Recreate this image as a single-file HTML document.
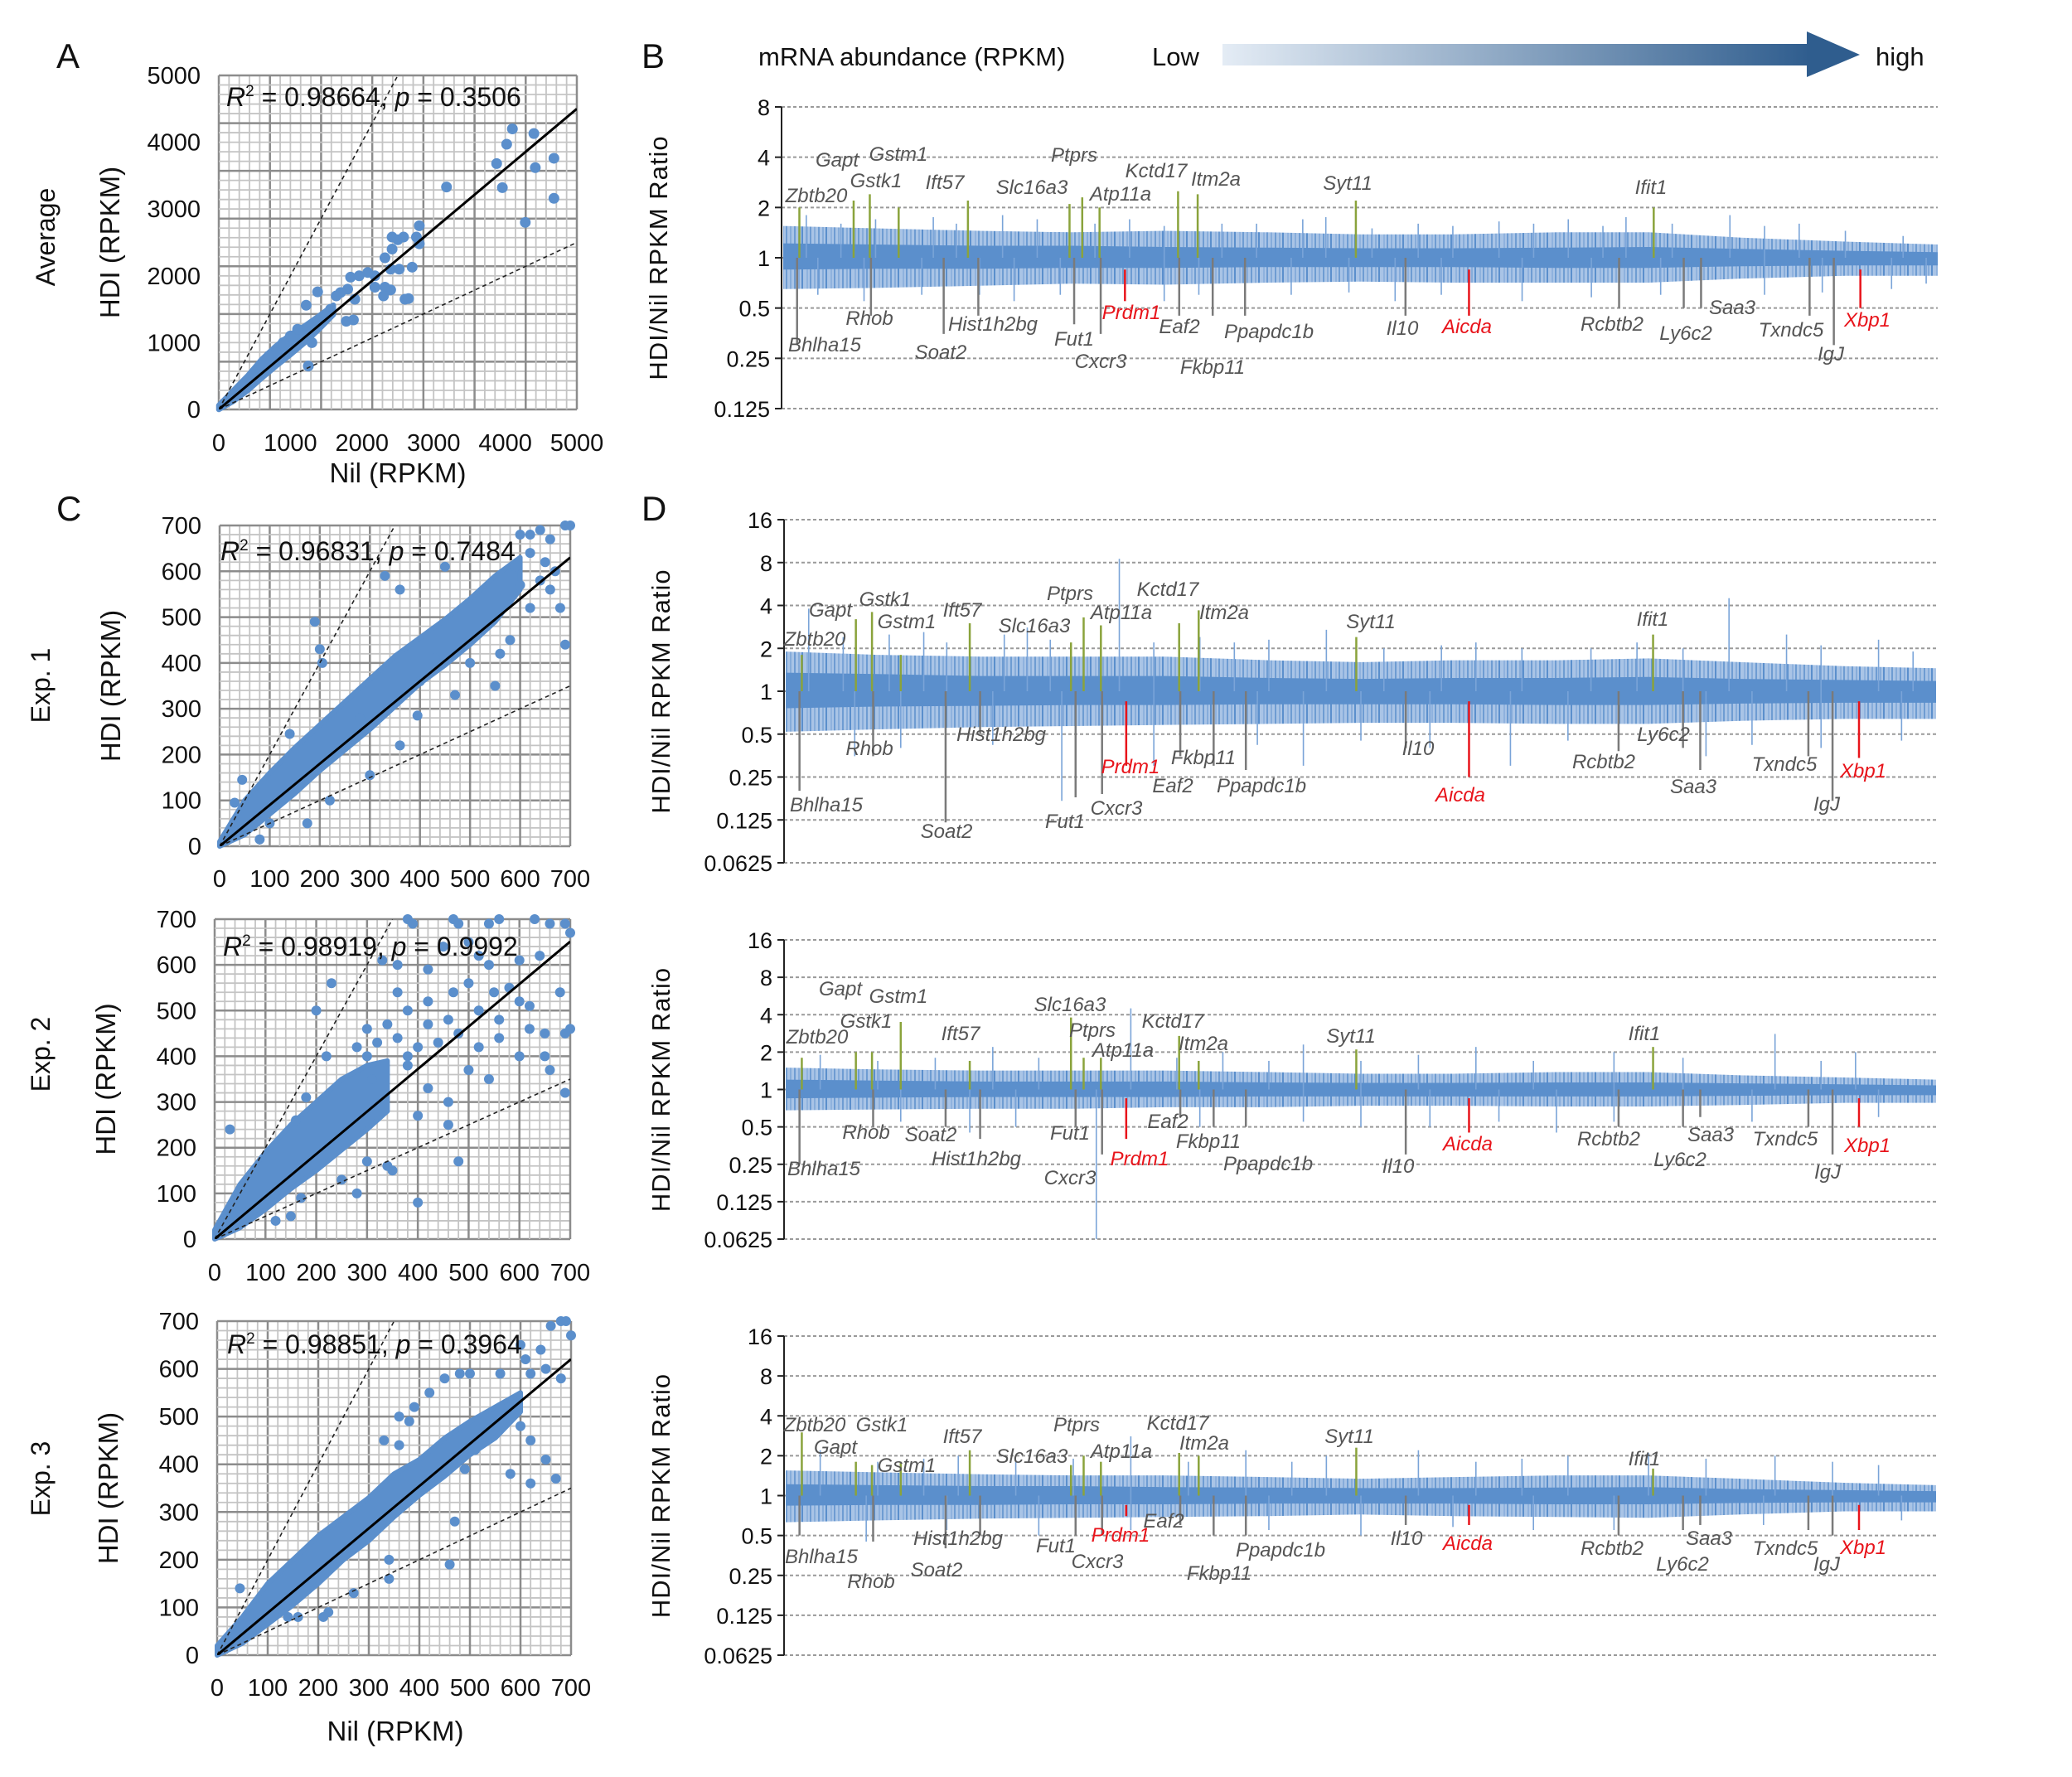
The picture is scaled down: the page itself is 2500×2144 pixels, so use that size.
<!DOCTYPE html>
<html><head><meta charset="utf-8"><style>
html,body{margin:0;padding:0;background:#fff}
svg{display:block;font-family:"Liberation Sans",Arial,sans-serif}
</style></head><body>
<svg id="fig" width="2500" height="2144" viewBox="0 0 2500 2144" xmlns="http://www.w3.org/2000/svg">
<defs>
<linearGradient id="abGrad" x1="0" x2="1" y1="0" y2="0"><stop offset="0" stop-color="#e4ecf5"/><stop offset="1" stop-color="#2f5d8e"/></linearGradient>
<pattern id="hatch" patternUnits="userSpaceOnUse" width="29" height="600">
<rect width="29" height="600" fill="#a9c4e6"/>
<line x1="2" x2="2" y1="0" y2="600" stroke="#5b8fcc" stroke-width="1.5"/>
<line x1="7" x2="7" y1="0" y2="600" stroke="#6f9cd3" stroke-width="1.2"/>
<line x1="11" x2="11" y1="0" y2="600" stroke="#5b8fcc" stroke-width="2"/>
<line x1="17" x2="17" y1="0" y2="600" stroke="#7ea7d8" stroke-width="1.2"/>
<line x1="21" x2="21" y1="0" y2="600" stroke="#5b8fcc" stroke-width="1.5"/>
<line x1="26" x2="26" y1="0" y2="600" stroke="#6f9cd3" stroke-width="1.2"/>
</pattern>
</defs>
<g font-size="42" fill="#111">
<text x="68" y="82">A</text>
<text x="774" y="82">B</text>
<text x="68" y="628">C</text>
<text x="774" y="628">D</text>
</g>
<g>
<text x="915" y="79" font-size="31" fill="#111">mRNA abundance (RPKM)</text>
<text x="1390" y="79" font-size="31" fill="#111">Low</text>
<rect x="1475" y="53" width="710" height="26" fill="url(#abGrad)"/>
<polygon points="2180,38 2244,66 2180,93" fill="#2f5d8e"/>
<text x="2263" y="79" font-size="31" fill="#111">high</text>
</g>
<g font-size="32" fill="#111" text-anchor="middle">
<text transform="translate(66,286) rotate(-90)">Average</text>
<text transform="translate(60,827) rotate(-90)">Exp. 1</text>
<text transform="translate(60,1272) rotate(-90)">Exp. 2</text>
<text transform="translate(60,1784) rotate(-90)">Exp. 3</text>
</g>
</svg>
<script>
// ---------------- DATA ----------------
const aBandX = [0,200,400,600,800,1000,1200,1400,1600];
const aBandHi = [60,280,500,750,950,1120,1250,1400,1560];
const aBandLo = [0,120,280,470,650,820,1000,1200,1420];
const aPtsX = [4100,4400,4020,4680,3880,4420,3180,3960,4680,4280,2800,2420,2500,2580,2760,2800,2320,2420,2700,2400,2520,2180,2080,1960,1840,2180,2320,2400,2300,2600,2650,1900,1780,1880,1380,1220,1640,1560,1800,1700,1500,1400,1300,1250,1100,1000,900,800,700,600];
const aPtsY = [4200,4130,3970,3760,3680,3620,3330,3320,3160,2800,2750,2580,2540,2580,2580,2480,2270,2400,2130,2100,2100,2000,2050,2000,1980,1830,1830,1790,1700,1650,1660,1650,1320,1340,1760,1560,1700,1500,1800,1750,1400,1300,1000,650,1200,1100,1000,850,800,650];
const c1BandX = [0,50,100,150,200,250,300,350,400,450,500,550,600];
const c1BandHi = [10,100,160,215,265,315,365,415,455,495,540,590,630];
const c1BandLo = [0,25,70,115,165,210,255,305,355,395,440,490,560];
const c1PtsX = [700,690,640,620,660,600,450,330,360,190,200,205,140,45,30,300,395,550,620,680,690,580,560,470,400,360,280,220,175,100,80,640,660,500,430,620,650,670,600,590];
const c1PtsY = [700,700,690,680,670,680,610,590,560,490,430,400,245,145,95,155,285,350,520,520,440,450,420,330,360,220,280,100,50,50,15,580,560,400,410,640,620,600,570,610];
const c2BandX = [0,50,100,150,200,250,300,340];
const c2BandHi = [20,120,190,250,300,350,380,390];
const c2BandLo = [0,25,65,110,150,195,240,280];
const c2PtsX = [380,390,470,480,560,540,630,660,690,700,450,500,330,360,420,520,540,600,640,230,360,420,470,500,550,580,600,620,680,700,690,650,620,560,520,480,440,400,380,420,460,520,560,600,650,660,690,540,500,460,420,380,300,280,220,180,160,200,460,480,400,350,340,300,170,120,150,30,280,250,400,320,340,360,380,300,310];
const c2PtsY = [700,690,700,690,700,690,700,690,690,670,640,650,610,600,590,620,600,610,620,560,540,520,540,560,540,550,520,510,540,460,450,450,460,440,420,450,430,420,500,470,480,500,480,400,400,370,320,350,370,300,330,380,460,420,400,310,260,500,250,170,80,150,160,170,90,40,50,240,100,130,270,430,470,440,400,400,350];
const c3BandX = [0,50,100,150,200,250,300,350,400,450,500,550,600];
const c3BandHi = [20,80,150,200,250,290,330,380,410,455,490,520,550];
const c3BandLo = [0,25,65,105,150,200,240,290,335,375,420,455,510];
const c3PtsX = [680,690,660,700,600,640,610,560,500,480,450,420,390,380,360,330,360,620,670,650,620,560,540,600,680,460,470,340,340,270,220,210,160,140,45,490,580,510,650,620];
const c3PtsY = [700,700,690,670,650,640,620,590,590,590,580,550,520,490,440,450,500,360,370,410,450,520,490,480,580,190,280,200,160,130,90,80,80,80,140,390,380,430,600,590];

const geneNames = ["Zbtb20","Bhlha15","Gapt","Gstk1","Rhob","Gstm1","Ift57","Soat2","Hist1h2bg","Slc16a3","Fut1","Ptprs","Atp11a","Cxcr3","Prdm1","Kctd17","Eaf2","Itm2a","Fkbp11","Ppapdc1b","Syt11","Il10","Aicda","Rcbtb2","Ifit1","Ly6c2","Saa3","Txndc5","IgJ","Xbp1"];
const geneKind = ["up","down","up","up","down","up","up","down","down","up","down","up","up","down","red","up","down","up","down","down","up","down","red","down","up","down","down","down","down","red"];
const geneRank = [0.014,0.012,0.061,0.075,0.076,0.10,0.16,0.139,0.169,0.248,0.252,0.259,0.274,0.275,0.296,0.342,0.343,0.359,0.372,0.40,0.496,0.539,0.594,0.724,0.754,0.78,0.795,0.889,0.91,0.933];
const bGeneVal = [2.0,0.3,2.2,2.4,0.45,2.0,2.2,0.35,0.45,2.1,0.4,2.3,2.0,0.35,0.55,2.5,0.45,2.4,0.45,0.45,2.2,0.45,0.45,0.5,2.0,0.5,0.5,0.45,0.3,0.5];
const d1GeneVal = [1.8,0.2,3.2,3.6,0.35,1.8,3.0,0.12,0.5,2.2,0.18,3.3,2.9,0.19,0.3,3.0,0.35,3.7,0.3,0.28,2.4,0.4,0.25,0.38,2.5,0.4,0.28,0.35,0.17,0.34];
const d2GeneVal = [1.8,0.25,2.0,2.0,0.5,3.5,1.7,0.5,0.4,3.8,0.5,1.8,1.8,0.3,0.4,2.7,0.6,1.7,0.5,0.5,2.1,0.3,0.45,0.5,2.2,0.5,0.6,0.5,0.3,0.5];
const d3GeneVal = [3.0,0.5,1.8,1.7,0.45,1.8,2.2,0.4,0.5,1.7,0.5,2.0,1.8,0.5,0.7,2.1,0.6,2.0,0.5,0.5,2.3,0.6,0.6,0.5,1.6,0.55,0.6,0.55,0.5,0.55];
const envRank = [0,0.08,0.17,0.25,0.33,0.42,0.5,0.58,0.67,0.75,0.83,0.92,1];
const bCoreHi = [1.22,1.2,1.18,1.18,1.16,1.15,1.14,1.14,1.15,1.16,1.13,1.1,1.08];
const bCoreLo = [0.85,0.86,0.86,0.87,0.87,0.88,0.88,0.88,0.87,0.87,0.89,0.9,0.9];
const bOutHi = [1.55,1.5,1.45,1.42,1.45,1.42,1.38,1.38,1.42,1.42,1.32,1.25,1.2];
const bOutLo = [0.65,0.66,0.68,0.7,0.69,0.71,0.72,0.71,0.71,0.71,0.75,0.78,0.78];
const d1CoreHi = [1.35,1.32,1.28,1.28,1.28,1.24,1.22,1.24,1.24,1.26,1.22,1.2,1.18];
const d1CoreLo = [0.76,0.78,0.79,0.8,0.8,0.81,0.81,0.81,0.8,0.8,0.82,0.83,0.83];
const d1OutHi = [1.9,1.8,1.75,1.75,1.75,1.65,1.6,1.65,1.65,1.7,1.6,1.5,1.45];
const d1OutLo = [0.52,0.54,0.56,0.57,0.58,0.59,0.6,0.6,0.59,0.59,0.62,0.64,0.64];
const d2CoreHi = [1.2,1.18,1.16,1.16,1.16,1.14,1.13,1.13,1.14,1.14,1.12,1.1,1.08];
const d2CoreLo = [0.85,0.86,0.87,0.87,0.87,0.88,0.88,0.88,0.88,0.88,0.89,0.9,0.9];
const d2OutHi = [1.5,1.45,1.42,1.42,1.42,1.38,1.34,1.34,1.38,1.38,1.3,1.25,1.2];
const d2OutLo = [0.68,0.69,0.7,0.7,0.72,0.72,0.74,0.74,0.73,0.73,0.75,0.78,0.78];
const d3CoreHi = [1.22,1.2,1.18,1.18,1.16,1.15,1.14,1.14,1.15,1.16,1.12,1.1,1.08];
const d3CoreLo = [0.84,0.85,0.85,0.86,0.86,0.87,0.87,0.87,0.86,0.86,0.88,0.89,0.89];
const d3OutHi = [1.55,1.5,1.45,1.42,1.42,1.38,1.34,1.38,1.42,1.42,1.34,1.25,1.2];
const d3OutLo = [0.63,0.65,0.67,0.68,0.69,0.7,0.72,0.7,0.69,0.68,0.72,0.76,0.76];
const bSpikeRank = [0.02,0.05,0.08,0.1,0.13,0.15,0.19,0.22,0.27,0.3,0.33,0.38,0.41,0.45,0.47,0.51,0.55,0.58,0.62,0.65,0.68,0.71,0.73,0.77,0.82,0.85,0.88,0.92,0.97,0.03,0.07,0.12,0.17,0.2,0.24,0.33,0.36,0.44,0.49,0.53,0.57,0.64,0.7,0.76,0.85,0.9,0.96,0.99];
const bSpikeVal = [1.8,1.6,1.7,1.7,1.75,1.6,1.8,1.7,1.6,1.7,1.55,1.6,1.6,1.7,1.75,1.5,1.6,1.55,1.65,1.6,1.7,1.55,1.75,1.6,1.8,1.55,1.6,1.45,1.35,0.6,0.55,0.6,0.6,0.55,0.6,0.55,0.6,0.6,0.62,0.55,0.6,0.55,0.58,0.6,0.6,0.62,0.65,0.7];
const d1SpikeRank = [0.02,0.05,0.09,0.12,0.14,0.19,0.21,0.23,0.29,0.32,0.36,0.39,0.42,0.47,0.52,0.57,0.6,0.64,0.7,0.74,0.78,0.82,0.87,0.9,0.95,0.98,0.24,0.06,0.1,0.18,0.32,0.41,0.45,0.5,0.56,0.63,0.68,0.8,0.84,0.9,0.97];
const d1SpikeVal = [3.8,2.4,2.5,2.6,2.2,2.5,2.8,2.3,8.5,2.2,2.4,2.2,2.3,2.7,2.0,2.1,2.2,2.0,2.0,2.2,2.0,4.5,2.5,2.1,2.3,1.9,0.17,0.35,0.4,0.42,0.3,0.42,0.3,0.45,0.4,0.3,0.45,0.35,0.42,0.4,0.45];
const d2SpikeRank = [0.03,0.08,0.13,0.18,0.22,0.3,0.34,0.38,0.42,0.45,0.5,0.55,0.6,0.65,0.72,0.78,0.86,0.9,0.93,0.27,0.5,0.56,0.67,0.16,0.1,0.2,0.36,0.45,0.62,0.72,0.84,0.95];
const d2SpikeVal = [1.9,1.7,1.8,2.2,1.8,4.5,1.8,2.0,1.7,2.3,1.7,1.9,2.2,1.7,2.0,1.8,2.8,1.7,2.0,0.0625,0.5,0.5,0.45,0.45,0.55,0.5,0.5,0.55,0.55,0.55,0.55,0.6];
const d3SpikeRank = [0.03,0.08,0.12,0.15,0.2,0.25,0.3,0.35,0.4,0.44,0.47,0.55,0.6,0.64,0.68,0.75,0.8,0.86,0.91,0.95,0.07,0.22,0.5,0.65,0.14,0.3,0.42,0.58,0.72,0.85,0.97];
const d3SpikeVal = [2.2,1.8,1.9,2.0,1.8,1.9,2.8,1.8,2.2,1.8,2.0,2.2,1.8,1.9,2.0,2.1,1.9,2.0,1.8,1.7,0.45,0.5,0.5,0.55,0.55,0.55,0.55,0.58,0.55,0.6,0.65];
const ratioTicksB = ["8","4","2","1","0.5","0.25","0.125"];
const ratioTicksD = ["16","8","4","2","1","0.5","0.25","0.125","0.0625"];
const aTicks = ["0","1000","2000","3000","4000","5000"];
const cTicks = ["0","100","200","300","400","500","600","700"];

// ---------------- DRAW ----------------
const NS = "http://www.w3.org/2000/svg";
const svg = document.getElementById("fig");
function mk(tag, attrs, parent) {
  const e = document.createElementNS(NS, tag);
  for (const k in attrs) e.setAttribute(k, attrs[k]);
  (parent || svg).appendChild(e);
  return e;
}
const DOT = "#5b8fcc";

function scatter(p) {
  const g = mk("g", {});
  
  
  const sx = v => p.x0 + (v / p.max) * (p.x1 - p.x0);
  const sy = v => p.yb - (v / p.max) * (p.yb - p.yt);
  const nMinor = 35;
  for (let i = 0; i <= nMinor; i++) {
    const v = p.max * i / nMinor;
    const major = i % 5 === 0;
    const vl = mk("line", {x1: sx(v), x2: sx(v), y1: p.yt, y2: p.yb, stroke: major ? "#8c8c8c" : "#c4c4c4", "stroke-width": major ? 2.5 : 1.8}, g);
    
    
    const hl = mk("line", {x1: p.x0, x2: p.x1, y1: sy(v), y2: sy(v), stroke: major ? "#8c8c8c" : "#c4c4c4", "stroke-width": major ? 2.5 : 1.8}, g);
    
    
  }
  const cid = "clip" + p.name;
  const cp = mk("clipPath", {id: cid}, g);
  mk("rect", {x: p.x0 - 10, y: p.yt - 10, width: p.x1 - p.x0 + 20, height: p.yb - p.yt + 20}, cp);
  const cl = mk("clipPath", {id: cid + "l"}, g);
  mk("rect", {x: p.x0, y: p.yt, width: p.x1 - p.x0, height: p.yb - p.yt}, cl);
  const dg = mk("g", {"clip-path": "url(#" + cid + ")"}, g);
  let pts = [];
  for (let i = 0; i < p.bx.length; i++) pts.push(sx(p.bx[i]) + "," + sy(p.bh[i]));
  for (let i = p.bx.length - 1; i >= 0; i--) pts.push(sx(p.bx[i]) + "," + sy(p.bl[i]));
  const band = mk("polygon", {points: pts.join(" "), fill: DOT, stroke: DOT, "stroke-width": p.r, "stroke-linejoin": "round"}, dg);
  
  
  for (let i = 0; i < p.px.length; i++) {
    const c = mk("circle", {cx: sx(p.px[i]), cy: sy(p.py[i]), r: p.r, fill: DOT}, dg);
    
    
  }
  const lg = mk("g", {"clip-path": "url(#" + cid + "l)"}, g);
  const d1 = mk("line", {x1: sx(0), y1: sy(0), x2: sx(p.max / 2), y2: sy(p.max), stroke: "#222", "stroke-width": 1.6, "stroke-dasharray": "5,4"}, lg);
  
  
  const d2 = mk("line", {x1: sx(0), y1: sy(0), x2: sx(p.max), y2: sy(p.max / 2), stroke: "#222", "stroke-width": 1.6, "stroke-dasharray": "5,4"}, lg);
  
  
  const fit = mk("line", {x1: sx(0), y1: sy(0), x2: sx(p.max), y2: sy(p.max * p.slope), stroke: "#000", "stroke-width": 3}, lg);
  
  
  for (let i = 0; i < p.ticks.length; i++) {
    const v = p.max * i / (p.ticks.length - 1);
    const ty = mk("text", {x: p.x0 - 22, y: sy(v) + 10, "text-anchor": "end", "font-size": 29, fill: "#111"}, g);
    ty.textContent = p.ticks[i];
    
    
    const tx = mk("text", {x: sx(v), y: p.xty, "text-anchor": "middle", "font-size": 29, fill: "#111"}, g);
    tx.textContent = p.ticks[i];
    
    
  }
  const yt = mk("text", {transform: "translate(" + (p.x0 - 120) + "," + ((p.yt + p.yb) / 2) + ") rotate(-90)", "text-anchor": "middle", "font-size": 33, fill: "#111"}, g);
  yt.textContent = "HDI (RPKM)";
  
  
  if (p.xtitle) {
    const xt = mk("text", {x: p.xtitle[0], y: p.xtitle[1], "text-anchor": "middle", "font-size": 33, fill: "#111"}, g);
    xt.textContent = "Nil (RPKM)";
    
    
  }
  const st = mk("text", {x: p.stat[0], y: p.stat[1], "font-size": 32, fill: "#111"}, g);
  
  
  st.innerHTML = '<tspan font-style="italic">R</tspan><tspan font-size="19" dy="-12">2</tspan><tspan dy="12"> = ' + p.r2 + ', </tspan><tspan font-style="italic">p</tspan><tspan> = ' + p.pv + '</tspan>';
}

scatter({name: "scatter-average", x0: 264, x1: 696, yt: 91, yb: 494, max: 5000, ticks: aTicks, xty: 544, r: 6.5,
  bx: aBandX, bh: aBandHi, bl: aBandLo, px: aPtsX, py: aPtsY, slope: 0.9, xtitle: [480, 582], stat: [273, 128], r2: "0.98664", pv: "0.3506"});
scatter({name: "scatter-exp1", x0: 265, x1: 688, yt: 634, yb: 1021, max: 700, ticks: cTicks, xty: 1070, r: 6,
  bx: c1BandX, bh: c1BandHi, bl: c1BandLo, px: c1PtsX, py: c1PtsY, slope: 0.9, stat: [266, 676], r2: "0.96831", pv: "0.7484"});
scatter({name: "scatter-exp2", x0: 259, x1: 688, yt: 1109, yb: 1495, max: 700, ticks: cTicks, xty: 1545, r: 6,
  bx: c2BandX, bh: c2BandHi, bl: c2BandLo, px: c2PtsX, py: c2PtsY, slope: 0.93, stat: [269, 1153], r2: "0.98919", pv: "0.9992"});
scatter({name: "scatter-exp3", x0: 262, x1: 689, yt: 1594, yb: 1997, max: 700, ticks: cTicks, xty: 2046, r: 6,
  bx: c3BandX, bh: c3BandHi, bl: c3BandLo, px: c3PtsX, py: c3PtsY, slope: 0.886, xtitle: [477, 2100], stat: [274, 1633], r2: "0.98851", pv: "0.3964"});

const bLabelPos = [[985,236],[995,416],[1010,193],[1057,218],[1049,384],[1084,186],[1140,220],[1135,425],[1198,391],[1245,226],[1296,409],[1296,187],[1352,234],[1328,436],[1365,377],[1395,206],[1423,394],[1467,216],[1463,443],[1531,400],[1626,221],[1692,396],[1770,394],[1945,391],[1992,226],[2034,402],[2090,371],[2161,398],[2209,427],[2253,386]];
const d1LabelPos = [[983,771],[997,971],[1002,736],[1068,723],[1049,903],[1094,750],[1161,736],[1142,1003],[1208,886],[1248,755],[1285,991],[1291,716],[1353,739],[1347,975],[1364,925],[1409,711],[1415,948],[1477,739],[1452,914],[1522,948],[1654,750],[1711,903],[1762,959],[1935,919],[1994,747],[2007,886],[2043,949],[2153,922],[2204,970],[2248,930]];
const d2LabelPos = [[986,1251],[994,1410],[1014,1193],[1045,1232],[1045,1366],[1084,1202],[1159,1247],[1123,1369],[1178,1398],[1291,1212],[1291,1367],[1318,1243],[1355,1267],[1291,1421],[1375,1398],[1415,1232],[1409,1353],[1452,1259],[1458,1377],[1530,1404],[1630,1250],[1687,1407],[1771,1380],[1941,1374],[1984,1247],[2027,1399],[2064,1369],[2154,1374],[2205,1414],[2253,1382]];
const d3LabelPos = [[983,1719],[991,1878],[1008,1746],[1064,1719],[1051,1908],[1094,1768],[1161,1733],[1130,1894],[1156,1856],[1245,1757],[1274,1865],[1299,1719],[1353,1751],[1324,1884],[1352,1852],[1421,1717],[1404,1835],[1453,1741],[1471,1898],[1545,1870],[1628,1733],[1697,1856],[1771,1862],[1945,1868],[1984,1760],[2030,1887],[2062,1856],[2154,1868],[2204,1887],[2248,1867]];

function ratio(p) {
  const g = mk("g", {});
  
  
  const n = p.ticks.length - 1;
  const topE = Math.log2(parseFloat(p.ticks[0]));
  const sy = v => p.yt + (topE - Math.log2(v)) * (p.yb - p.yt) / n;
  const sx = f => p.x0 + 2 + f * (p.x1 - p.x0 - 2);
  for (let i = 0; i <= n; i++) {
    const y = p.yt + i * (p.yb - p.yt) / n;
    const gl = mk("line", {x1: p.x0, x2: p.x1, y1: y, y2: y, stroke: "#9a9a9a", "stroke-width": 2, "stroke-dasharray": "4,3"}, g);
    
    
    const tk = mk("line", {x1: p.x0 - 8, x2: p.x0, y1: y, y2: y, stroke: "#222", "stroke-width": 2}, g);
    
    
    const tl = mk("text", {x: p.x0 - 14, y: y + 10, "text-anchor": "end", "font-size": 27, fill: "#111"}, g);
    tl.textContent = p.ticks[i];
    
    
  }
  const ax = mk("line", {x1: p.x0, x2: p.x0, y1: p.yt, y2: p.yb, stroke: "#222", "stroke-width": 2}, g);
  
  
  const yt = mk("text", {transform: "translate(" + (p.x0 - 138) + "," + ((p.yt + p.yb) / 2) + ") rotate(-90)", "text-anchor": "middle", "font-size": 31, fill: "#111", "letter-spacing": "1"}, g);
  yt.textContent = "HDI/Nil RPKM Ratio";
  
  
  function band(hi, lo, fill, op, name) {
    let pts = [];
    for (let i = 0; i < envRank.length; i++) pts.push(sx(envRank[i]) + "," + sy(hi[i]));
    for (let i = envRank.length - 1; i >= 0; i--) pts.push(sx(envRank[i]) + "," + sy(lo[i]));
    const b = mk("polygon", {points: pts.join(" "), fill: fill, "fill-opacity": op}, g);
    
    
  }
  band(p.oh, p.ol, "url(#hatch)", 1, 'ratio-trace-outer');
  band(p.ch, p.cl, "#5b8fcc", 1, 'ratio-trace-core');
  for (let i = 0; i < p.sr.length; i++) {
    const s = mk("line", {x1: sx(p.sr[i]), x2: sx(p.sr[i]), y1: sy(1), y2: sy(p.sv[i]), stroke: "#7aa4d8", "stroke-width": 1.6}, g);
    
    
  }
  for (let i = 0; i < geneNames.length; i++) {
    const k = geneKind[i];
    const col = k === "up" ? "#8aa33c" : (k === "red" ? "#e8141b" : "#7a7a7a");
    const start = k === "red" ? 0.85 : 1;
    const st = mk("line", {x1: sx(geneRank[i]), x2: sx(geneRank[i]), y1: sy(start), y2: sy(p.gv[i]), stroke: col, "stroke-width": 2.5}, g);
    
    
    const lb = mk("text", {x: p.lp[i][0], y: p.lp[i][1] + 8, "text-anchor": "middle", "font-size": 24, "font-style": "italic", fill: k === "red" ? "#e8141b" : "#555"}, g);
    lb.textContent = geneNames[i];
    
    
  }
}
ratio({name: "ratio-average", x0: 943, x1: 2338, yt: 129, yb: 493, ticks: ratioTicksB, ch: bCoreHi, cl: bCoreLo, oh: bOutHi, ol: bOutLo, sr: bSpikeRank, sv: bSpikeVal, gv: bGeneVal, lp: bLabelPos});
ratio({name: "ratio-exp1", x0: 946, x1: 2336, yt: 627, yb: 1041, ticks: ratioTicksD, ch: d1CoreHi, cl: d1CoreLo, oh: d1OutHi, ol: d1OutLo, sr: d1SpikeRank, sv: d1SpikeVal, gv: d1GeneVal, lp: d1LabelPos});
ratio({name: "ratio-exp2", x0: 946, x1: 2336, yt: 1134, yb: 1495, ticks: ratioTicksD, ch: d2CoreHi, cl: d2CoreLo, oh: d2OutHi, ol: d2OutLo, sr: d2SpikeRank, sv: d2SpikeVal, gv: d2GeneVal, lp: d2LabelPos});
ratio({name: "ratio-exp3", x0: 946, x1: 2336, yt: 1612, yb: 1997, ticks: ratioTicksD, ch: d3CoreHi, cl: d3CoreLo, oh: d3OutHi, ol: d3OutLo, sr: d3SpikeRank, sv: d3SpikeVal, gv: d3GeneVal, lp: d3LabelPos});
</script>
</body></html>
